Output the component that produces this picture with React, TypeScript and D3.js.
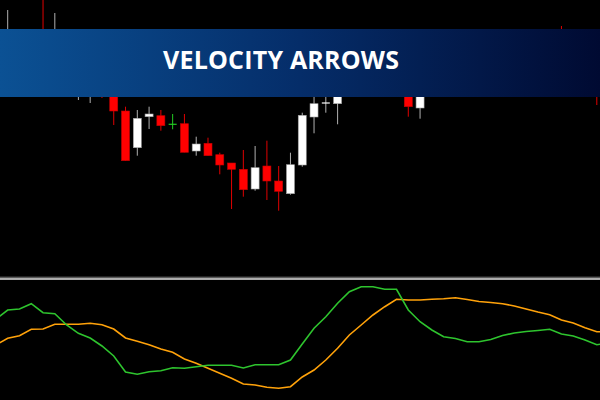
import React from "react";
import * as d3 from "d3";

// ---- Price candles (bar index 0..50) ----
const opens = [200,225,208,235,195,220,188,190,202,192,169,132.3,163.3,164.3,155.7,156.3,129,136.7,125.3,117,110.7,91,114,99,86.3,115,163,177,176.3,195,208,225,212,228,200,172,195,215,200,218,232,218,235,222,236,220,208,235,218,202,210];
const closes = [230,210,230,210,225,200,210,205,188,169,119.3,161.7,166,154.3,155.7,127.7,136,124.3,115,110.7,90.3,112.3,99,88.7,115.3,164.7,176.3,177,195,210,225,212,230,210,173.3,195,215,200,220,232,218,235,222,238,220,208,225,218,205,218,192];
const highs = [270,235,240,285,267,230,220,215,210,196,173.3,170,173.3,170,166,166,143.3,142.3,127.3,117,130,134,139.3,114,127.3,167.3,188,192,205,218,235,232,240,238,210,202,225,225,230,240,240,242,242,245,244,228,235,254,225,228,220];
const lows = [192,200,200,202,190,192,180,177,182,155,119.3,124.3,151,149.3,150.7,127.7,124.3,124.3,105.7,71,83.3,89.3,80,69.3,85.3,113.3,146.7,167.3,155.7,188,200,205,202,198,163.3,161.3,190,192,195,210,212,210,215,216,212,200,202,208,195,190,175];
const greenDoji = [14];

// ---- Indicator lines (bar index -1..51) ----
const fastLine = [81,90,91,96.3,87.3,86.3,75,66.7,62,54,44,28,25.7,28.3,29.3,32.3,31.7,33.3,34.7,34.7,34.7,32,35.3,35.3,35.3,40,56,71.7,83.3,96.7,108.3,113.3,113.3,110.7,110.7,90,78.3,70,63.3,61.5,58.3,58.3,60.5,64.5,67,68.5,69.5,70.7,66,64,60,55.3,57];
const slowLine = [55,61.7,64.3,70.7,71,75.7,75.7,75.7,76.7,75.3,71,62,58.7,55.3,51,47.7,41,36.7,31.7,26.7,21.7,16,15,12.7,11.7,13.3,23,30,40,51.7,65,75,85,93.3,100.7,100,100,100.7,101.3,102.3,100.5,98.5,97.5,96.3,94,91,88,85.3,80,77,72.3,68.3,68.3];

const title = "VELOCITY ARROWS";

export default function App() {
  const W = 600, H = 400;
  const x = d3.scaleLinear().domain([0, 50]).range([7.7, 596.8]);
  const yP = d3.scaleLinear().domain([0, 280]).range([280, 0]);
  const yI = d3.scaleLinear().domain([0, 120]).range([400, 280]);
  const bodyW = 8;

  const line = d3
    .line<number>()
    .x((_, i) => x(i - 1))
    .y((d) => yI(d));

  return (
    <svg
      width={W}
      height={H}
      style={{ position: "fixed", left: 0, top: 0, display: "block", background: "#000" }}
    >
      <defs>
        <linearGradient id="bannerGrad" x1="0" x2="1" y1="0" y2="0">
          <stop offset="0%" stopColor="#0b5194" />
          <stop offset="50%" stopColor="#052d69" />
          <stop offset="100%" stopColor="#000a32" />
        </linearGradient>
        <clipPath id="topClip">
          <rect x={0} y={0} width={W} height={276} />
        </clipPath>
        <clipPath id="botClip">
          <rect x={0} y={281} width={W} height={119} />
        </clipPath>
      </defs>
      <rect x={0} y={0} width={W} height={H} fill="#000" />

      <g clipPath="url(#topClip)">
        {opens.map((o, i) => {
          const c = closes[i];
          const cx = x(i);
          const bull = c > o;
          const doji = c === o;
          const green = greenDoji.includes(i);
          const wickColor = green ? "#22cc22" : doji || bull ? "#b0b0b0" : "#e00000";
          const top = yP(Math.max(o, c));
          const bot = yP(Math.min(o, c));
          return (
            <g key={i}>
              <line x1={cx} x2={cx} y1={yP(highs[i])} y2={yP(lows[i])} stroke={wickColor} strokeWidth={1} />
              {doji ? (
                <line x1={cx - bodyW / 2} x2={cx + bodyW / 2} y1={top} y2={top} stroke={green ? "#22cc22" : "#ffffff"} strokeWidth={1.2} />
              ) : (
                <rect
                  x={cx - bodyW / 2}
                  y={top}
                  width={bodyW}
                  height={Math.max(1, bot - top)}
                  fill={bull ? "#ffffff" : "#ff0000"}
                  stroke={bull ? "#a0a0a0" : "#c00000"}
                  strokeWidth={0.6}
                />
              )}
            </g>
          );
        })}
      </g>

      <rect x={0} y={29} width={W} height={68} fill="url(#bannerGrad)" />
      <text
        x={281}
        y={68.5}
        textAnchor="middle"
        fill="#ffffff"
        fontFamily="'Open Sans', 'DejaVu Sans', sans-serif"
        fontWeight={700}
        fontSize={25}
        textLength={236}
        lengthAdjust="spacing"
      >
        {title}
      </text>

      <rect x={0} y={276.6} width={W} height={1.6} fill="#5a5a5a" />
      <rect x={0} y={278.3} width={W} height={1.4} fill="#f0f0f0" />

      <g clipPath="url(#botClip)">
        <path d={line(slowLine) || ""} fill="none" stroke="#ffa20a" strokeWidth={1.6} />
        <path d={line(fastLine) || ""} fill="none" stroke="#2ec42e" strokeWidth={1.6} />
      </g>
    </svg>
  );
}
